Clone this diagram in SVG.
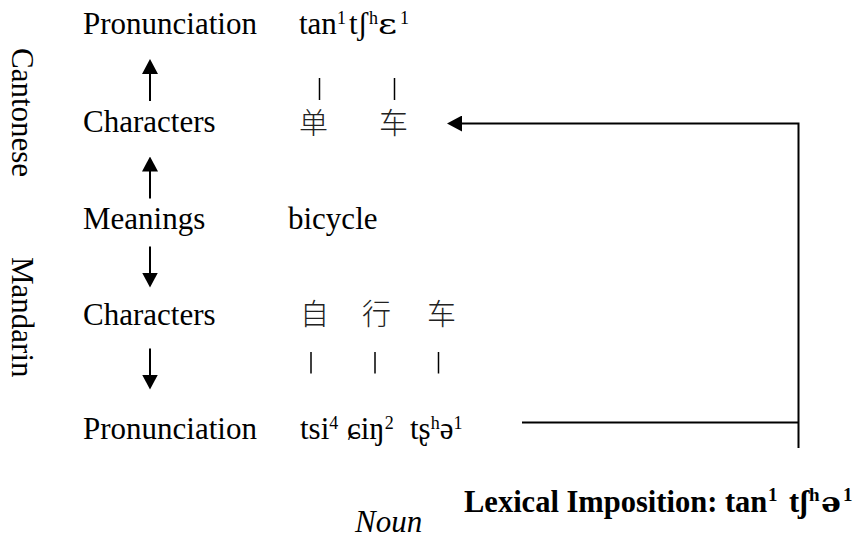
<svg xmlns="http://www.w3.org/2000/svg" width="863" height="544" viewBox="0 0 863 544">
<style>
.t{font-family:"Liberation Serif","DejaVu Serif","Times New Roman",serif;font-size:31px;fill:#000}
.b{font-weight:bold;font-size:30.5px}
.i{font-style:italic}
.s{font-size:18px}
.bs{font-size:19px}
.dv{font-family:"DejaVu Serif",serif;font-size:28px}
.side{font-family:"Liberation Serif","DejaVu Serif",serif;font-size:31px;fill:#000}
.cjk{font-family:"Noto Sans CJK SC","Noto Sans CJK TC",sans-serif;font-size:29px;font-weight:300;fill:#222}
.ar{stroke:#000;stroke-width:2;fill:none}
.tk{stroke:#000;stroke-width:1.5;fill:none}
.ln{stroke:#000;stroke-width:2;fill:none}
</style>
<defs>
<marker id="head" viewBox="0 0 15 16" refX="11" refY="8" markerWidth="15" markerHeight="16" markerUnits="userSpaceOnUse" orient="auto">
<path d="M0,0 L15,8 L0,16 z" fill="#000"/>
</marker>
</defs>
<rect width="863" height="544" fill="#fff"/>

<g id="label-cantonese"><text class="side" transform="translate(12,48) rotate(90)">Cantonese</text></g>
<g id="label-mandarin"><text class="side" transform="translate(12,257) rotate(90)">Mandarin</text></g>

<g id="cant-pron">
<text class="t" x="83" y="34">Pronunciation</text>
<text class="t" x="299" y="34">tan</text>
<text class="t s" x="337" y="24">1</text>
<text class="t" x="349" y="34">tʃ</text>
<text class="t s" x="369" y="24">h</text>
<text class="t dv" x="378" y="34" textLength="19" lengthAdjust="spacingAndGlyphs">ɛ</text>
<text class="t s" x="400" y="24">1</text>
</g>
<g id="cant-chars">
<text class="t" x="83" y="131.5">Characters</text>
<text class="cjk" x="299" y="134">单</text>
<text class="cjk" x="379" y="134">车</text>
</g>
<g id="meanings">
<text class="t" x="83" y="228.5">Meanings</text>
<text class="t" x="288" y="228.5">bicycle</text>
</g>
<g id="mand-chars">
<text class="t" x="83" y="325">Characters</text>
<text class="cjk" x="300" y="325">自</text>
<text class="cjk" x="362" y="325">行</text>
<text class="cjk" x="427" y="325">车</text>
</g>
<g id="mand-pron">
<text class="t" x="83" y="438.5">Pronunciation</text>
<text class="t" x="300" y="438.5">tsi<tspan class="s" dy="-10">4</tspan></text>
<text class="t" x="347" y="438.5">ɕiŋ<tspan class="s" dy="-10">2</tspan></text>
<text class="t" x="410" y="438.5">tʂ<tspan class="s" dy="-10">h</tspan><tspan dy="10">ə</tspan><tspan class="s" dy="-10">1</tspan></text>
</g>
<g id="lexical-imposition">
<text class="t b" x="464" y="511.5">Lexical Imposition: tan</text>
<text class="t b bs" x="768" y="501">1</text>
<text class="t b" x="789" y="511.5">tʃ</text>
<text class="t b bs" x="809" y="501">h</text>
<text class="t b dv" x="821" y="511.5" textLength="20" lengthAdjust="spacingAndGlyphs">ə</text>
<text class="t b bs" x="843" y="501">1</text>
</g>
<g id="noun">
<text class="t i" x="355" y="531.5">Noun</text>
</g>

<g id="connectors">
<line class="ar" x1="150" y1="101" x2="150" y2="63" marker-end="url(#head)"/>
<line class="ar" x1="150" y1="198.5" x2="150" y2="160.5" marker-end="url(#head)"/>
<line class="ar" x1="150" y1="246.5" x2="150" y2="283.5" marker-end="url(#head)"/>
<line class="ar" x1="150" y1="348.5" x2="150" y2="385.5" marker-end="url(#head)"/>
<line class="tk" x1="319.5" y1="78" x2="319.5" y2="100"/>
<line class="tk" x1="394.5" y1="78" x2="394.5" y2="100"/>
<line class="tk" x1="311" y1="352" x2="311" y2="373.5"/>
<line class="tk" x1="375" y1="352" x2="375" y2="373.5"/>
<line class="tk" x1="438.5" y1="352" x2="438.5" y2="373.5"/>
<line class="ln" x1="522" y1="422.5" x2="798.5" y2="422.5"/>
<path class="ln" d="M798.5,448 V123.5 H451" marker-end="url(#head)"/>
</g>
</svg>
